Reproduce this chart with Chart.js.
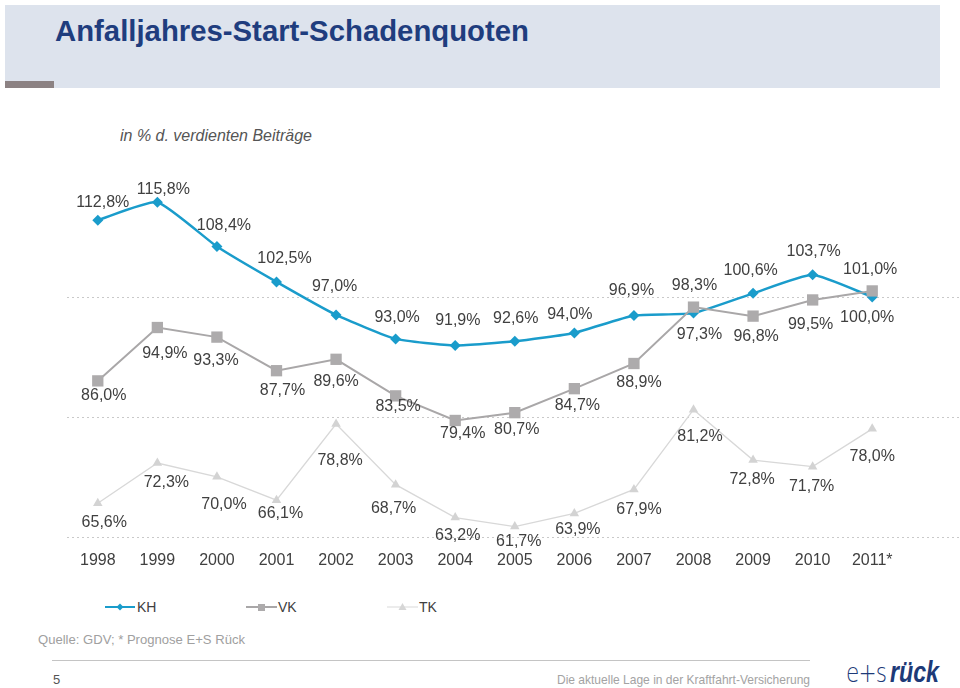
<!DOCTYPE html>
<html><head><meta charset="utf-8">
<script src="https://cdn.jsdelivr.net/npm/chart.js@4.4.1/dist/chart.umd.min.js"></script>
<style>
html,body{margin:0;padding:0;background:#fff;}
body{width:960px;height:688px;position:relative;overflow:hidden;font-family:"Liberation Sans",Arial,sans-serif;}
.abs{position:absolute;white-space:nowrap;}
#hdr{left:5px;top:5px;width:935px;height:83px;background:#dde3ed;}
#hdrmark{left:5px;top:81px;width:49px;height:7px;background:#8c8283;}
#title{left:55px;top:16px;font-size:30px;line-height:30px;font-weight:bold;color:#1f3d7e;transform-origin:0 0;}
#sub{left:120px;top:127px;font-size:17px;line-height:18px;font-style:italic;color:#555;transform-origin:0 0;}
#src{left:38px;top:632px;font-size:13px;line-height:16px;color:#a0a0a0;transform-origin:0 0;}
#foot{left:557px;top:672px;font-size:13px;line-height:16px;color:#a3a3a3;transform-origin:0 0;}
#pg{left:53px;top:672px;font-size:13px;line-height:16px;color:#555;}
#fline{left:52px;top:660px;width:758px;height:0;border-top:1px solid #c4c4c4;}
#logo{left:846px;top:656px;color:#1d3a78;transform-origin:0 0;}
#logo .es{font-size:27px;font-weight:300;font-family:"DejaVu Sans","Liberation Sans",sans-serif;letter-spacing:-1px;}
#logo .r{font-size:29px;font-weight:bold;font-style:italic;}
.lg{font-size:14px;line-height:16px;color:#404040;top:599px;}
#c{position:absolute;left:0;top:0;z-index:2;}
</style></head>
<body>
<div class="abs" id="hdr"></div>
<div class="abs" id="hdrmark"></div>
<div class="abs" id="title" data-w="474">Anfalljahres-Start-Schadenquoten</div>
<div class="abs" id="sub" data-w="192">in % d. verdienten Beiträge</div>
<svg class="abs" style="left:0;top:595px" width="460" height="24">
  <line x1="105" y1="12" x2="135" y2="12" stroke="#1a9ccb" stroke-width="2"/>
  <polygon points="120,8.5 123.5,12 120,15.5 116.5,12" fill="#1a9ccb"/>
  <line x1="246" y1="12" x2="277" y2="12" stroke="#a9a7a8" stroke-width="2"/>
  <rect x="258" y="9" width="7" height="7" fill="#adabac"/>
  <line x1="387" y1="12" x2="418" y2="12" stroke="#d9d9d9" stroke-width="1"/>
  <polygon points="402.5,8 406.5,15 398.5,15" fill="#d6d6d6"/>
</svg>
<div class="abs lg" style="left:137px">KH</div>
<div class="abs lg" style="left:278px">VK</div>
<div class="abs lg" style="left:419px">TK</div>
<div class="abs" id="src" data-w="207">Quelle: GDV; * Prognose E+S Rück</div>
<div class="abs" id="fline"></div>
<div class="abs" id="pg">5</div>
<div class="abs" id="foot" data-w="253">Die aktuelle Lage in der Kraftfahrt-Versicherung</div>
<div class="abs" id="logo" data-w="93"><span class="es">e+s</span> <span class="r">rück</span></div>
<canvas id="c" width="960" height="688"></canvas>
<script>
// ---- data ----
const years = ['1998','1999','2000','2001','2002','2003','2004','2005','2006','2007','2008','2009','2010','2011*'];
const khValues = [112.8,115.8,108.4,102.5,97.0,93.0,91.9,92.6,94.0,96.9,97.3,100.6,103.7,100.0];
const vkValues = [86.0,94.9,93.3,87.7,89.6,83.5,79.4,80.7,84.7,88.9,98.3,96.8,99.5,101.0];
const tkValues = [65.6,72.3,70.0,66.1,78.8,68.7,63.2,61.7,63.9,67.9,81.2,72.8,71.7,78.0];
const gridValues = [60,80,100];

// ---- label placement (style only) ----
const labelOffsets = {
  KH: [[5,-18],[6,-13],[7,-21],[8,-23],[-1.5,-28],[1.5,-21],[2.6,-25],[1,-23],[-4.5,-18],[-2.5,-25],[6,21],[-2.4,-23],[1,-23],[-5,21]],
  VK: [[6,15],[7.5,26],[-1,23],[6,20],[0,22],[2.5,11],[7.5,13],[2,17],[3,17],[5,19],[1,-22],[3,20],[-2,25],[-2,-21]],
  TK: [[6.5,19],[9,20],[7,28],[4,13],[4,37],[-2,24],[2.5,18],[4,15],[3.5,16],[5,20],[6.5,27],[-1,20],[-1,20],[0,28]]
};

// fit condensed texts
document.querySelectorAll('[data-w]').forEach(el=>{
  el.style.display='inline-block';
  const w = el.getBoundingClientRect().width;
  el.style.transform = 'scaleX(' + (parseFloat(el.dataset.w)/w) + ')';
});

const gridPlugin = {
  id:'dottedGrid',
  beforeDatasetsDraw(chart){
    const y = chart.scales.y, ctx = chart.ctx;
    ctx.save();
    ctx.strokeStyle = '#c9c9c9';
    ctx.lineWidth = 1;
    ctx.setLineDash([2,3]);
    gridValues.forEach(v=>{
      const py = Math.round(y.getPixelForValue(v)) + 0.5;
      ctx.beginPath(); ctx.moveTo(67, py); ctx.lineTo(960, py); ctx.stroke();
    });
    ctx.restore();
  }
};

const labelPlugin = {
  id:'valueLabels',
  afterDatasetsDraw(chart){
    const ctx = chart.ctx;
    ctx.save();
    ctx.font = '16px "Liberation Sans", Arial, sans-serif';
    ctx.fillStyle = '#404040';
    ctx.textAlign = 'center';
    ctx.textBaseline = 'middle';
    chart.data.datasets.forEach((ds,i)=>{
      const meta = chart.getDatasetMeta(i);
      const offs = labelOffsets[ds.label];
      meta.data.forEach((pt,j)=>{
        const txt = ds.data[j].toFixed(1).replace('.',',') + '%';
        ctx.fillText(txt, pt.x + offs[j][0], pt.y + offs[j][1]);
      });
    });
    ctx.restore();
  }
};

new Chart(document.getElementById('c'), {
  type:'line',
  data:{
    labels: years,
    datasets:[
      {label:'KH', data:khValues, order:1, borderColor:'#1a9ccb', backgroundColor:'#1a9ccb', borderWidth:2.5,
       pointStyle:'rectRot', pointRadius:5.5, pointBorderWidth:0, pointBackgroundColor:'#1a9ccb', tension:0.15, clip:false},
      {label:'VK', data:vkValues, order:0, borderColor:'#a9a7a8', backgroundColor:'#adabac', borderWidth:2,
       pointStyle:'rect', pointRadius:8, pointBorderWidth:0, pointBackgroundColor:'#adabac', tension:0, clip:false},
      {label:'TK', data:tkValues, order:2, borderColor:'#d8d8d8', backgroundColor:'#d3d3d3', borderWidth:1.3,
       pointStyle:'triangle', pointRadius:5.5, pointBorderWidth:0, pointBackgroundColor:'#d3d3d3', tension:0, clip:false}
    ]
  },
  options:{
    responsive:false, animation:false, devicePixelRatio:1,
    layout:{padding:{left:68, right:58, top:177, bottom:112}},
    plugins:{legend:{display:false}, tooltip:{enabled:false}, title:{display:false}},
    scales:{
      x:{offset:true, grid:{display:false}, border:{display:false},
         ticks:{color:'#404040', padding:6, font:{size:16, family:'"Liberation Sans", Arial, sans-serif'}, maxRotation:0, autoSkip:false}},
      y:{display:false, min:60, max:120}
    }
  },
  plugins:[gridPlugin, labelPlugin]
});
</script>
</body></html>
